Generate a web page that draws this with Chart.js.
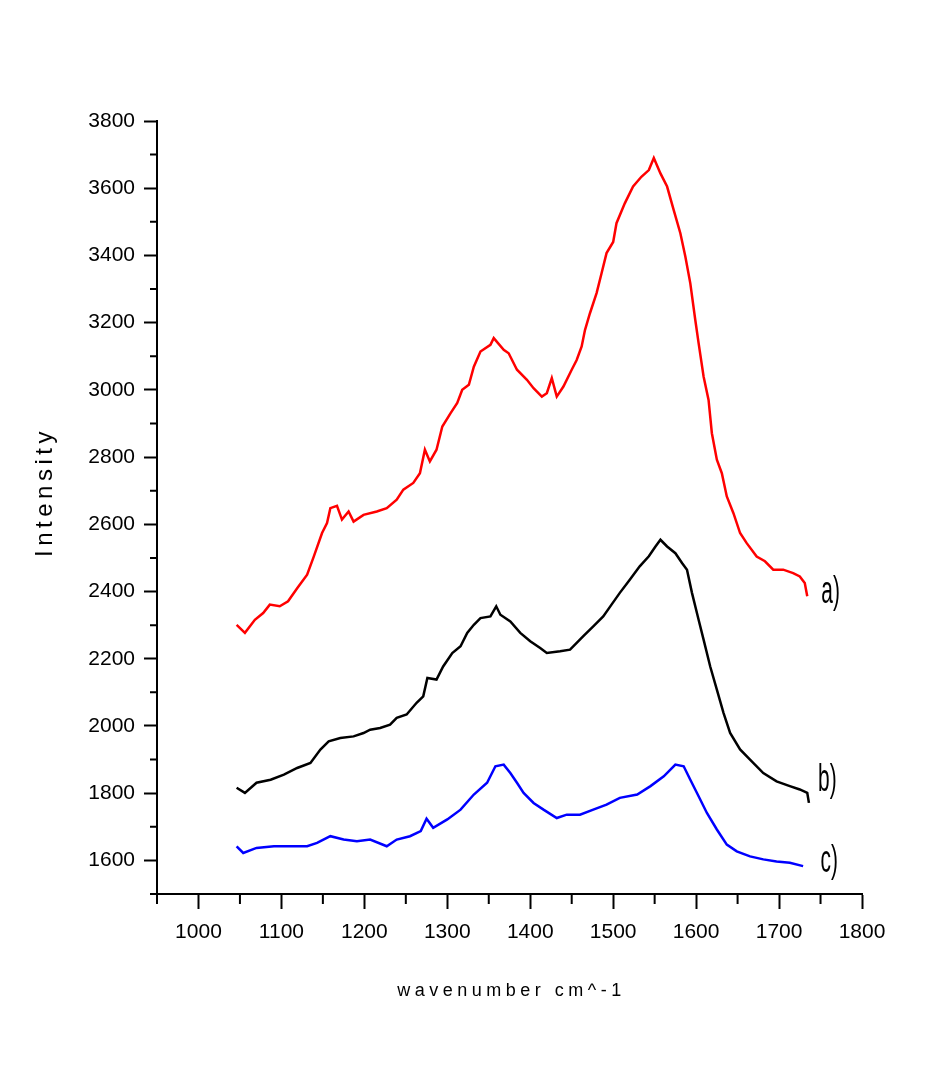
<!DOCTYPE html>
<html>
<head>
<meta charset="utf-8">
<title>Intensity vs wavenumber</title>
<script src="https://cdn.jsdelivr.net/npm/chart.js@4.4.0/dist/chart.umd.min.js"></script>
<style>
  body { margin: 0; background: #fff; }
  #chart { display: block; }
</style>
</head>
<body>
<canvas id="chart" width="947" height="1067"></canvas>
<script>
// spectrum a) (red)
const wavenumberA = [1046, 1056, 1068, 1078, 1086, 1098, 1108, 1119, 1131, 1139, 1149, 1155, 1159, 1167, 1173, 1181, 1187, 1199, 1215, 1227, 1239, 1247, 1259, 1267, 1273, 1279, 1287, 1294, 1304, 1312, 1318, 1326, 1332, 1340, 1352, 1356, 1368, 1374, 1384, 1396, 1404, 1414, 1420, 1426, 1432, 1440, 1450, 1456, 1462, 1466, 1472, 1480, 1486, 1492, 1500, 1504, 1514, 1524, 1534, 1543, 1549, 1557, 1565, 1573, 1581, 1587, 1593, 1599, 1603, 1609, 1615, 1619, 1625, 1631, 1637, 1645, 1653, 1661, 1673, 1683, 1693, 1705, 1717, 1725, 1731, 1734];
const intensityA = [2301, 2277, 2316, 2336, 2361, 2356, 2371, 2410, 2450, 2504, 2574, 2604, 2648, 2655, 2614, 2638, 2608, 2628, 2638, 2648, 2673, 2703, 2723, 2752, 2822, 2787, 2822, 2891, 2931, 2961, 3000, 3015, 3069, 3114, 3134, 3154, 3119, 3109, 3060, 3030, 3005, 2980, 2990, 3035, 2980, 3010, 3060, 3089, 3129, 3178, 3228, 3288, 3347, 3407, 3440, 3496, 3555, 3605, 3634, 3654, 3690, 3644, 3605, 3535, 3466, 3397, 3317, 3208, 3139, 3040, 2970, 2871, 2792, 2752, 2683, 2633, 2574, 2544, 2504, 2490, 2465, 2465, 2455, 2445, 2425, 2386];

// spectrum b) (black)
const wavenumberB = [1046, 1056, 1070, 1087, 1103, 1119, 1135, 1147, 1157, 1171, 1187, 1199, 1207, 1219, 1231, 1239, 1251, 1263, 1271, 1276, 1287, 1295, 1306, 1316, 1324, 1332, 1340, 1352, 1359, 1364, 1376, 1388, 1400, 1412, 1420, 1436, 1448, 1456, 1464, 1476, 1488, 1498, 1508, 1520, 1532, 1543, 1551, 1557, 1565, 1575, 1583, 1589, 1595, 1603, 1609, 1617, 1625, 1633, 1641, 1653, 1665, 1681, 1697, 1713, 1725, 1734, 1736];
const intensityB = [1816, 1801, 1831, 1840, 1855, 1875, 1890, 1930, 1954, 1964, 1969, 1979, 1989, 1994, 2004, 2024, 2034, 2069, 2088, 2143, 2138, 2177, 2217, 2237, 2277, 2301, 2321, 2326, 2356, 2331, 2311, 2277, 2252, 2232, 2217, 2222, 2227, 2247, 2267, 2296, 2326, 2361, 2396, 2435, 2475, 2505, 2534, 2554, 2534, 2514, 2485, 2465, 2396, 2316, 2257, 2177, 2108, 2039, 1979, 1930, 1900, 1860, 1835, 1821, 1811, 1801, 1771];

// spectrum c) (blue)
const wavenumberC = [1046, 1054, 1070, 1091, 1111, 1131, 1143, 1159, 1175, 1191, 1207, 1227, 1239, 1255, 1268, 1275, 1283, 1300, 1316, 1332, 1348, 1358, 1368, 1376, 1384, 1392, 1404, 1416, 1432, 1444, 1460, 1476, 1492, 1508, 1529, 1545, 1561, 1575, 1585, 1593, 1603, 1613, 1625, 1637, 1649, 1665, 1681, 1697, 1713, 1729];
const intensityC = [1642, 1622, 1637, 1642, 1642, 1642, 1652, 1672, 1662, 1657, 1662, 1642, 1662, 1672, 1687, 1724, 1697, 1722, 1751, 1796, 1831, 1880, 1885, 1860, 1831, 1801, 1771, 1751, 1726, 1736, 1736, 1751, 1766, 1786, 1796, 1821, 1850, 1885, 1880, 1840, 1791, 1741, 1692, 1647, 1627, 1612, 1603, 1597, 1593, 1583];

const seriesLabels = ['a)', 'b)', 'c)'];
const seriesColors = ['#ff0000', '#000000', '#0000ff'];
// where the a) b) c) tags sit, in data units (left edge, baseline)
const labelAnchorX = [1751, 1747, 1750];
const labelAnchorY = [2367, 1805, 1564];

const xTitle = 'wavenumber cm^-1';
const yTitle = 'Intensity';

const toPoints = (xs, ys) => xs.map((v, i) => ({ x: v, y: ys[i] }));

const tickFont = { family: '"Liberation Sans", Arial, sans-serif', size: 21 };

// minor ticks, axis titles and the a) b) c) tags
const decorations = {
  id: 'decorations',
  afterDraw(chart) {
    const { ctx, scales: { x, y } } = chart;
    ctx.save();
    ctx.strokeStyle = '#000';
    ctx.lineWidth = 2;
    ctx.beginPath();
    for (let v = 950; v < 1800; v += 100) {
      const px = x.getPixelForValue(v);
      ctx.moveTo(px, y.bottom);
      ctx.lineTo(px, y.bottom + 10);
    }
    for (let v = 1500; v < 3800; v += 200) {
      const py = y.getPixelForValue(v);
      ctx.moveTo(x.left, py);
      ctx.lineTo(x.left - 7, py);
    }
    ctx.stroke();

    ctx.fillStyle = '#000';
    ctx.font = '18px "Liberation Sans", Arial, sans-serif';
    ctx.letterSpacing = '4.5px';
    ctx.textAlign = 'center';
    ctx.textBaseline = 'alphabetic';
    ctx.fillText(xTitle, (x.left + x.right) / 2 + 2, 996);

    ctx.save();
    ctx.font = '24px "Liberation Sans", Arial, sans-serif';
    ctx.letterSpacing = '4.5px';
    ctx.translate(52, 492);
    ctx.rotate(-Math.PI / 2);
    ctx.fillText(yTitle, 0, 0);
    ctx.restore();

    ctx.letterSpacing = '0px';
    ctx.textAlign = 'left';
    ctx.font = '38px "Liberation Sans", Arial, sans-serif';
    seriesLabels.forEach((txt, i) => {
      ctx.save();
      ctx.translate(x.getPixelForValue(labelAnchorX[i]), y.getPixelForValue(labelAnchorY[i]));
      ctx.scale(0.55, 1);
      ctx.fillText(txt, 0, 0);
      ctx.restore();
    });
    ctx.restore();
  }
};

new Chart(document.getElementById('chart'), {
  type: 'line',
  data: {
    datasets: [
      { label: seriesLabels[0], data: toPoints(wavenumberA, intensityA), borderColor: seriesColors[0] },
      { label: seriesLabels[1], data: toPoints(wavenumberB, intensityB), borderColor: seriesColors[1] },
      { label: seriesLabels[2], data: toPoints(wavenumberC, intensityC), borderColor: seriesColors[2] }
    ]
  },
  options: {
    responsive: false,
    animation: false,
    elements: {
      line: { borderWidth: 2.5, tension: 0, fill: false },
      point: { radius: 0 }
    },
    layout: { padding: { top: 121, right: 85, left: 0, bottom: 0 } },
    plugins: {
      legend: { display: false },
      tooltip: { enabled: false }
    },
    scales: {
      x: {
        type: 'linear',
        min: 950,
        max: 1800,
        afterFit: s => { s.height = 173; },
        border: { display: true, color: '#000', width: 2 },
        grid: {
          drawOnChartArea: false,
          tickLength: 15,
          tickWidth: 2,
          tickColor: c => (c.tick && c.tick.value % 100 === 0 ? '#000' : 'rgba(0,0,0,0)')
        },
        ticks: {
          stepSize: 50,
          autoSkip: false,
          maxRotation: 0,
          padding: 11,
          color: '#000',
          font: tickFont,
          callback: v => (v % 100 === 0 ? String(v) : '')
        }
      },
      y: {
        min: 1500,
        max: 3800,
        afterFit: s => { s.width = 157; },
        border: { display: true, color: '#000', width: 2 },
        grid: {
          drawOnChartArea: false,
          tickLength: 13,
          tickWidth: 2,
          tickColor: c => (c.tick && c.tick.value % 200 === 0 ? '#000' : 'rgba(0,0,0,0)')
        },
        ticks: {
          stepSize: 100,
          autoSkip: false,
          padding: 9,
          color: '#000',
          font: tickFont,
          callback: v => (v % 200 === 0 ? String(v) : '')
        }
      }
    }
  },
  plugins: [decorations]
});
</script>
</body>
</html>
